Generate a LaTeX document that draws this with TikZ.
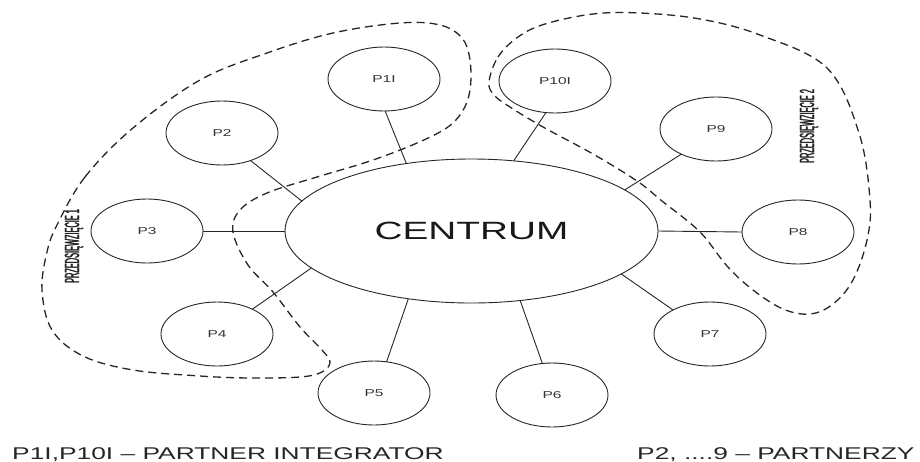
\documentclass[tikz,border=0pt]{standalone}
\usepackage{fontspec}
\setmainfont{Liberation Sans}
\newfontfamily\widefont{Liberation Sans}[FakeStretch=1.55]
\newfontfamily\tallfont{Liberation Sans}[FakeStretch=0.36, FakeBold=1.5]

\usetikzlibrary{shapes.geometric}

\begin{document}
\begin{tikzpicture}[x=1pt,y=-1pt,
  ink/.style={draw=black!85, line width=0.9pt},
  partner/.style={ellipse, ink, minimum width=112pt, minimum height=64pt,
    inner sep=0pt, outer sep=0pt, text=black!80,
    font=\widefont\fontsize{10}{12}\selectfont},
  hub/.style={ellipse, ink, minimum width=373pt, minimum height=144pt,
    inner sep=0pt, outer sep=0pt, text=black!90,
    font=\widefont\fontsize{25}{30}\selectfont},
  link/.style={ink},
  project/.style={draw=black!85, line width=1.3pt, dash pattern=on 8pt off 5pt},
  projlabel/.style={rotate=90, inner sep=0pt, text=black!85,
    font=\tallfont\fontsize{20.5}{24}\selectfont},
  legend/.style={inner sep=0pt, text=black!85,
    font=\widefont\fontsize{17}{20}\selectfont}]

\useasboundingbox (0,0) rectangle (920,461);

% central hub
\node[hub] (c) at (471.5,231) {CENTRUM};

% partners
\node[partner] (p1)  at (384,79)  {P1I};
\node[partner] (p2)  at (222,133) {P2};
\node[partner] (p3)  at (147,231) {P3};
\node[partner] (p4)  at (217,334) {P4};
\node[partner] (p5)  at (374,393) {P5};
\node[partner] (p6)  at (552,395) {P6};
\node[partner] (p7)  at (710,334) {P7};
\node[partner] (p8)  at (798,232) {P8};
\node[partner] (p9)  at (716,129) {P9};
\node[partner] (p10) at (555,81)  {P10I};

% links from partners to the hub
\draw[link] (p1.-88)   -- (c.134);
\draw[link] (p10.-106) -- (c.59);
\draw[link] (p9.-144)  -- (c.15.5);
\draw[link] (p2.-44)   -- (c.170.3);
\draw[link] (p3.0)     -- (c.180);
\draw[link] (p4.35.5)  -- (c.193.4);
\draw[link] (p5.68)    -- (c.227.4);
\draw[link] (p6.107)   -- (c.-55.3);
\draw[link] (p7.147)   -- (c.-16);
\draw[link] (p8.180)   -- (c.0);

% project 1 outline
\draw[project] plot[smooth cycle, tension=0.6] coordinates {
  (57,225) (85,177) (133,128) (200,80) (267,53) (333,33) (400,23)
  (440,25) (462,38) (470,60) (470,90) (462,112) (445,129) (410,146)
  (367,162) (317,177) (267,193) (240,210) (233,232) (248,265)
  (273,292) (300,327) (322,350) (330,362) (322,372) (300,377)
  (250,378) (200,376) (133,370) (83,356) (52,330) (42,290) (47,252)};

% project 2 outline
\draw[project] plot[smooth cycle, tension=0.6] coordinates {
  (489,82) (498,57) (518,37) (545,24) (593,14) (640,13) (700,19)
  (760,35) (827,68) (859,133) (870,200) (867,240) (853,280)
  (833,304) (810,314) (783,309) (753,290) (727,266) (700,232)
  (662,201) (637,181) (593,154) (543,127) (510,107) (494,95)};

% project labels
\node[projlabel] (l1) at (74,246) {PRZEDSIĘWZIĘCIE 1};
\node[projlabel] (l2) at (809,126) {PRZEDSIĘWZIĘCIE 2};

% legend
\node[legend, anchor=base west] (k1) at (12,459) {P1I,P10I – PARTNER INTEGRATOR};
\node[legend, anchor=base west] (k2) at (637,459) {P2, ....9 – PARTNERZY};

\end{tikzpicture}
\end{document}
